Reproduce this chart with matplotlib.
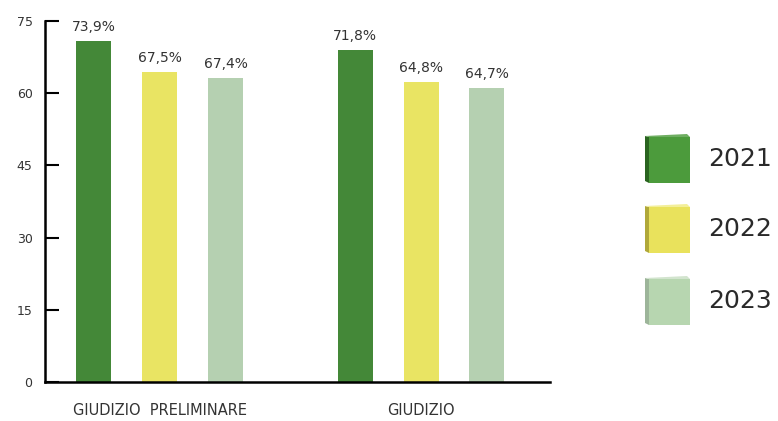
import matplotlib
matplotlib.use("Agg")
import matplotlib.pyplot as plt
from matplotlib.patches import Polygon
import numpy as np

# dati
categories = ["GIUDIZIO  PRELIMINARE", "GIUDIZIO"]
years = ["2021", "2022", "2023"]
bar_2021 = [70.9, 69.0]
bar_2022 = [64.4, 62.4]
bar_2023 = [63.2, 61.1]
labels_2021 = ["73,9%", "71,8%"]
labels_2022 = ["67,5%", "64,8%"]
labels_2023 = ["67,4%", "64,7%"]
y_ticks = [0, 15, 30, 45, 60, 75]

colors = ["#448838", "#E9E463", "#B5D0B1"]
leg_colors = ["#4C9B3C", "#E9E25C", "#B7D6B0"]
side_colors = ["#2A6420", "#B0A83A", "#9DB59A"]
top_colors = ["#6FAE62", "#F3EF9A", "#D2E4CE"]
txt_color = "#333333"

W, H = 778, 421
fig = plt.figure(figsize=(W / 100, H / 100), dpi=100)
ax = fig.add_axes([45 / W, 1 - 382 / H, 505 / W, 361 / H])

x = np.arange(len(categories))
offset = 0.252
width = 0.134
series = [bar_2021, bar_2022, bar_2023]
labels = [labels_2021, labels_2022, labels_2023]

for i, (vals, labs) in enumerate(zip(series, labels)):
    xs = x + (i - 1) * offset
    bars = ax.bar(xs, vals, width=width, color=colors[i], zorder=2)
    for b, lab in zip(bars, labs):
        ax.annotate(lab, (b.get_x() + b.get_width() / 2, b.get_height()),
                    xytext=(0, 5), textcoords="offset points",
                    ha="center", va="bottom", fontsize=10, color=txt_color)

ax.set_xlim(-0.438, 1.493)
ax.set_ylim(0, 75)
ax.set_yticks(y_ticks)
ax.set_xticks(x)
ax.set_xticklabels(categories)

for s in ["top", "right"]:
    ax.spines[s].set_visible(False)
for s in ["left", "bottom"]:
    ax.spines[s].set_linewidth(1.8)
    ax.spines[s].set_color("black")

ax.tick_params(axis="y", direction="in", length=10, width=1.5, pad=9,
               labelsize=9, labelcolor=txt_color)
ax.tick_params(axis="x", length=0, pad=15, labelsize=10.5, labelcolor=txt_color)

# legenda con quadratini "3D"
def px(xp, yp):
    return (xp / W, 1 - yp / H)

legend_tops = [134, 204, 276]
for i, yt in enumerate(legend_tops):
    face = [px(649, yt + 3), px(690, yt + 3), px(690, yt + 49), px(649, yt + 49)]
    side = [px(645, yt + 2), px(649, yt + 3), px(649, yt + 49), px(645, yt + 47)]
    top = [px(645, yt + 2), px(687, yt), px(690, yt + 3), px(649, yt + 3)]
    fig.patches.append(Polygon(side, closed=True, color=side_colors[i],
                               transform=fig.transFigure, lw=0))
    fig.patches.append(Polygon(top, closed=True, color=top_colors[i],
                               transform=fig.transFigure, lw=0))
    fig.patches.append(Polygon(face, closed=True, color=leg_colors[i],
                               transform=fig.transFigure, lw=0))
    fig.text(708 / W, 1 - (yt + 25) / H, years[i], fontsize=18,
             color="#2a2a2a", ha="left", va="center")

fig.savefig("out.png", dpi=100)
